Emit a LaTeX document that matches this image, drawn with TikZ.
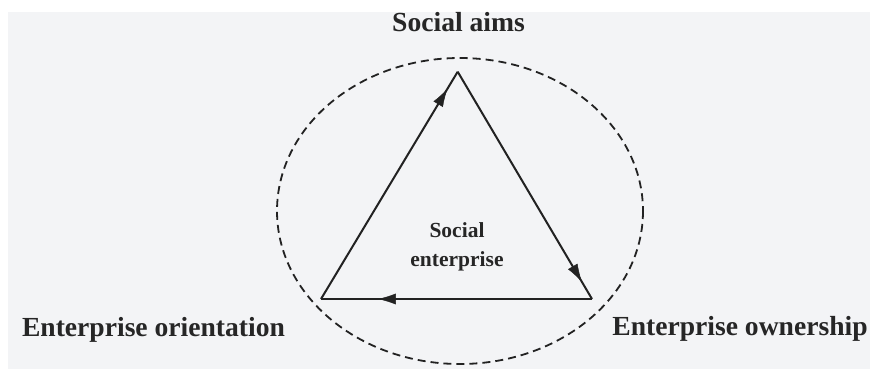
\documentclass[tikz,border=0pt]{standalone}
\usepackage{fontspec}
\setmainfont{Liberation Serif}[BoldFont={Liberation Serif Bold}]
\usetikzlibrary{arrows.meta,decorations.markings}
\definecolor{bg}{HTML}{F3F4F6}
\definecolor{ink}{HTML}{222222}
\definecolor{txt}{HTML}{262626}
\tikzset{
  edge/.style={draw=ink, line width=2pt, postaction={decorate},
    decoration={markings, mark=at position #1 with {\arrow[ink, line width=0.5pt]{Latex[length=18pt,width=11pt]}}}},
  biglabel/.style={text=txt, font=\bfseries\fontsize{27.6}{33}\selectfont, anchor=base, inner sep=0pt},
  midlabel/.style={text=txt, font=\bfseries\fontsize{21.5}{29}\selectfont, align=center, inner sep=0pt},
  ring/.style={draw=ink, line width=1.8pt, dash pattern=on 8pt off 5pt}
}
\begin{document}
\begin{tikzpicture}[x=1pt,y=-1pt]
\useasboundingbox (0,0) rectangle (870,369);
\fill[white] (0,0) rectangle (870,369);
\fill[bg] (8,12) rectangle (870,369);
\draw[ring] (460,211) ellipse [x radius=183, y radius=153];
\coordinate (top) at (457.7,71.7);
\coordinate (bl) at (321,299);
\coordinate (br) at (592,299);
\path[edge=0.925] (bl) -- (top);
\path[edge=0.925] (top) -- (br);
\path[edge=0.79] (br) -- (bl);
\node[biglabel] (aims) at (458.5,32) {Social aims};
\node[biglabel] (orient) at (153.5,336) {Enterprise orientation};
\node[biglabel] (own) at (740,335) {Enterprise ownership};
\node[midlabel] (se) at (457,247) {Social\\enterprise};
\end{tikzpicture}
\end{document}
